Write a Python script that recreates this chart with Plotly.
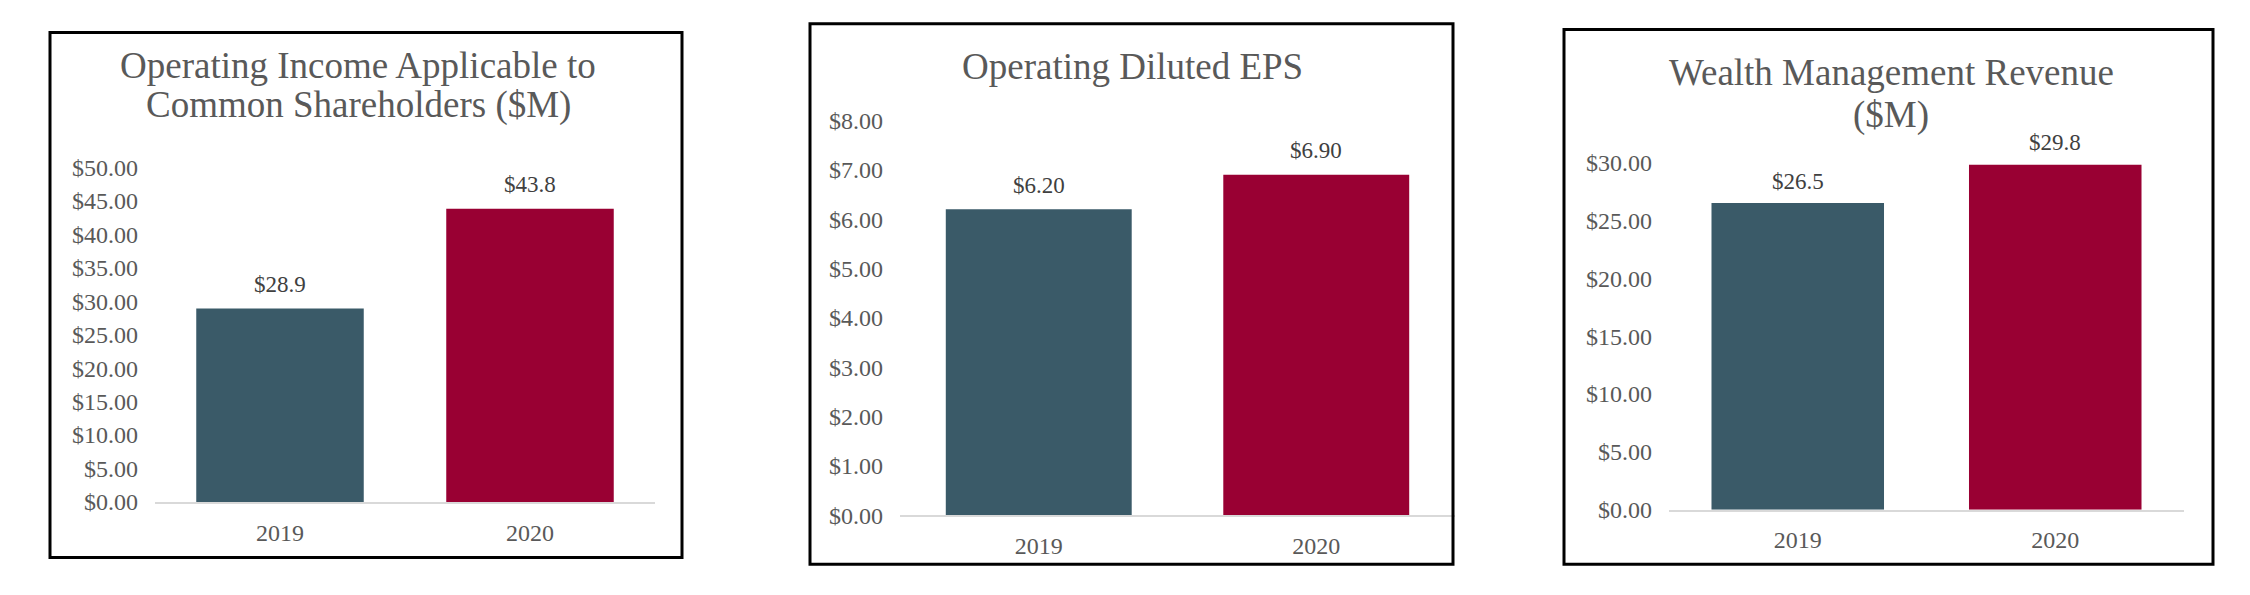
import plotly.graph_objects as go

# ---- data ----
years = ["2019", "2020"]
bar_colors = ["#3A5A68", "#990033"]

income_vals = [28.9, 43.8]
eps_vals = [6.20, 6.90]
wealth_vals = [26.5, 29.8]

income_title = ["Operating Income Applicable to", "Common Shareholders ($M)"]
eps_title = ["Operating Diluted EPS"]
wealth_title = ["Wealth Management Revenue", "($M)"]

income_range = [0, 50]
eps_range = [0, 8]
wealth_range = [0, 30]
income_dtick = 5
eps_dtick = 1
wealth_dtick = 5

# ---- layout helpers ----
W, H = 2250, 595
FONT = "Liberation Serif, Times New Roman, serif"
GRAY = "#595959"


def px(x):
    return x / W


def py(y):
    return 1 - y / H


panels = [
    dict(vals=income_vals, fmt="${:.1f}", rng=income_range, dtick=income_dtick,
         xdom=(147, 647), ydom=(503, 153), title=income_title,
         title_x=350, title_y=[47, 88], border=(42, 12, 674, 561), lab=24),
    dict(vals=eps_vals, fmt="${:.2f}", rng=eps_range, dtick=eps_dtick,
         xdom=(892, 1447), ydom=(517, 104), title=eps_title,
         title_x=1124, title_y=[48], border=(802, 3, 1445, 568), lab=24),
    dict(vals=wealth_vals, fmt="${:.1f}", rng=wealth_range, dtick=wealth_dtick,
         xdom=(1661, 2176), ydom=(511, 148), title=wealth_title,
         title_x=1883, title_y=[54, 98], border=(1556, 9, 2205, 568), lab=22),
]

fig = go.Figure()
annotations = []
shapes = []
layout_axes = {}

for i, p in enumerate(panels, start=1):
    sfx = "" if i == 1 else str(i)
    fig.add_trace(go.Bar(
        x=years, y=p["vals"], marker=dict(color=bar_colors, line=dict(width=0)),
        xaxis="x" + sfx, yaxis="y" + sfx, hoverinfo="skip", showlegend=False,
    ))
    layout_axes["xaxis" + sfx] = dict(
        domain=[px(p["xdom"][0]), px(p["xdom"][1])], anchor="y" + sfx,
        type="category", categoryorder="array", categoryarray=years,
        range=[-0.5, len(years) - 0.5],
        showline=True, linecolor="#D9D9D9", linewidth=1.5, ticks="",
        showgrid=False, zeroline=False,
        tickfont=dict(family=FONT, size=24, color=GRAY),
        ticklabelstandoff=8,
    )
    layout_axes["yaxis" + sfx] = dict(
        domain=[py(p["ydom"][0]), py(p["ydom"][1])], anchor="x" + sfx,
        range=p["rng"], dtick=p["dtick"], tick0=0, tickprefix="$", tickformat=".2f",
        showgrid=False, zeroline=False, showline=False, ticks="",
        tickfont=dict(family=FONT, size=24, color=GRAY),
        ticklabelstandoff=16,
    )
    for idx, v in enumerate(p["vals"]):
        annotations.append(dict(
            x=idx, y=v, xref="x" + sfx, yref="y" + sfx, text=p["fmt"].format(v),
            showarrow=False, xanchor="center", yanchor="middle", yshift=p["lab"],
            font=dict(family=FONT, size=23, color="#404040"),
        ))
    for line, ty in zip(p["title"], p["title_y"]):
        annotations.append(dict(
            x=px(p["title_x"]), y=py(ty), xref="paper", yref="paper", text=line,
            showarrow=False, xanchor="center", yanchor="middle",
            font=dict(family=FONT, size=37, color=GRAY),
        ))
    x0, y0, x1, y1 = p["border"]
    shapes.append(dict(
        type="rect", xref="paper", yref="paper",
        x0=px(x0), x1=px(x1), y0=py(y1), y1=py(y0),
        line=dict(color="black", width=3), fillcolor="rgba(0,0,0,0)", layer="above",
    ))

fig.update_layout(
    width=W, height=H, margin=dict(l=0, r=0, t=0, b=0),
    paper_bgcolor="white", plot_bgcolor="white",
    bargap=0.33, showlegend=False,
    annotations=annotations, shapes=shapes,
    **layout_axes,
)

fig.write_html("out.html")
